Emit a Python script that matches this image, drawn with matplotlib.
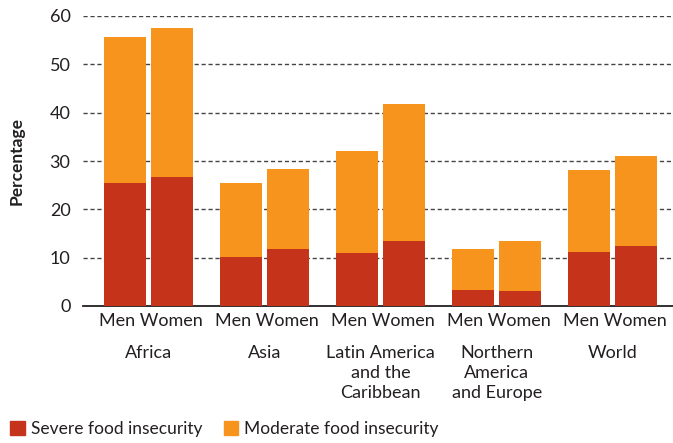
import matplotlib
matplotlib.use("Agg")
import matplotlib.pyplot as plt
import numpy as np
from matplotlib.patches import Patch
from matplotlib.transforms import blended_transform_factory

regions = ["Africa", "Asia", "Latin America\nand the\nCaribbean",
           "Northern\nAmerica\nand Europe", "World"]
sexes = ["Men", "Women"]
severe_men = [25.5, 10.1, 11.0, 3.4, 11.2]
severe_women = [26.7, 11.7, 13.4, 3.2, 12.5]
total_men = [55.6, 25.5, 32.1, 11.7, 28.1]
total_women = [57.6, 28.3, 41.8, 13.4, 31.0]
moderate_men = [t - s for t, s in zip(total_men, severe_men)]
moderate_women = [t - s for t, s in zip(total_women, severe_women)]
yticks = [0, 10, 20, 30, 40, 50, 60]

c_severe = "#C4331A"
c_moderate = "#F7941E"
txt = "#231F20"

plt.rcParams['font.family'] = ['Lato', 'DejaVu Sans']

fig = plt.figure(figsize=(6.73, 4.43), dpi=100)
ax = fig.add_axes([83/673, 1-306/443, 1-83/673, 290/443])

x = np.arange(len(regions))
w = 0.362
off = 0.2026
ax.bar(x - off, severe_men, w, color=c_severe, zorder=3)
ax.bar(x - off, moderate_men, w, bottom=severe_men, color=c_moderate, zorder=3)
ax.bar(x + off, severe_women, w, color=c_severe, zorder=3)
ax.bar(x + off, moderate_women, w, bottom=severe_women, color=c_moderate, zorder=3)

ax.set_xlim(-0.565, 4.52)
ax.set_ylim(0, 60)
ax.set_yticks(yticks)
ax.set_yticklabels([str(v) for v in yticks], fontsize=13, color=txt)
for v in yticks[1:]:
    ax.axhline(v, color="#444444", lw=1, ls=(0, (3, 2)), zorder=1)

ax.set_xticks(x + 0.017)
ax.set_xticklabels([" ".join(sexes)] * len(regions), fontsize=13, color=txt)
ax.tick_params(axis='both', length=0)
ax.tick_params(axis='x', pad=5)
ax.tick_params(axis='y', pad=9)

for s in ["top", "right", "left"]:
    ax.spines[s].set_visible(False)
ax.spines["bottom"].set_color(txt)
ax.spines["bottom"].set_linewidth(1.3)

ax.set_ylabel("Percentage", fontsize=12.5, fontweight='bold', color=txt, labelpad=18)

tr = blended_transform_factory(ax.transData, fig.transFigure)
for xi, r in zip(x, regions):
    ax.text(xi, 1-345/443, r, transform=tr, ha='center', va='top',
            fontsize=13, color=txt, linespacing=1.3)

handles = [Patch(color=c_severe, label="Severe food insecurity"),
           Patch(color=c_moderate, label="Moderate food insecurity")]
fig.legend(handles=handles, loc='lower left', bbox_to_anchor=(0.0, -0.01),
           ncol=2, frameon=False, fontsize=12.5, handlelength=0.85, handleheight=0.85,
           handletextpad=0.35, columnspacing=1.2, borderaxespad=0.2,
           labelcolor=txt)

fig.savefig("out.png", dpi=100)
